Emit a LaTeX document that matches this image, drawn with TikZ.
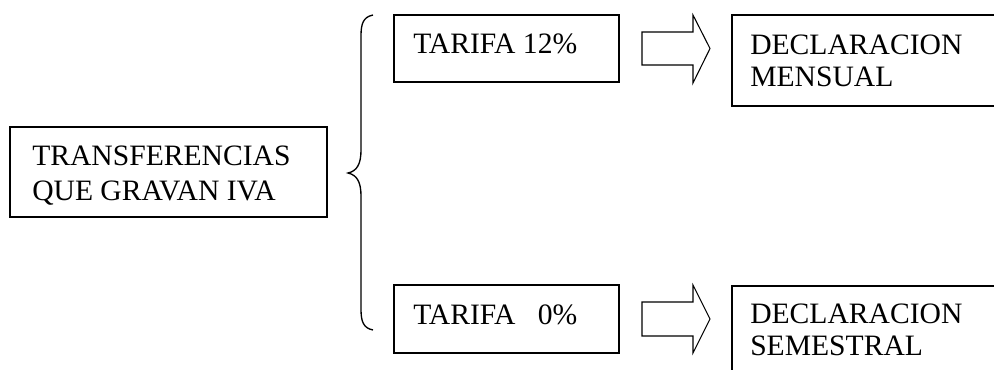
\documentclass[tikz,border=0pt]{standalone}
\usepackage{fontspec}
\setmainfont{Liberation Serif}
\begin{document}
\begin{tikzpicture}[x=0.75pt,y=-0.75pt,
  box/.style={draw,line width=1.1pt},
  txt/.style={inner sep=0pt,anchor=base west,font=\fontsize{22.2}{26}\selectfont},
  blockarrow/.style={draw,line width=0.8pt,line join=miter},
  brace/.style={draw,line width=1pt}]
\useasboundingbox (0,0) rectangle (994,369);
\clip (0,0) rectangle (994,369);

% source box
\draw[box] (10,127) rectangle (327,217);
\node[txt] (srcA) at (32,165) {TRANSFERENCIAS};
\node[txt] (srcB) at (32,200) {QUE GRAVAN IVA};

% curly brace
\draw[brace] (373,15) .. controls (363,17) and (361,24) .. (361,36)
  -- (361,150) .. controls (361,164) and (357,171) .. (348,173)
  .. controls (357,175) and (361,182) .. (361,196)
  -- (361,309) .. controls (361,321) and (363,328) .. (373,330);

% rate boxes
\draw[box] (394,15) rectangle (619,82);
\node[txt] (t12) at (413,53) {TARIFA 12\%};
\draw[box] (394,285) rectangle (619,353);
\node[txt] (t0) at (413,324) {TARIFA\ \ \ 0\%};

% block arrows
\draw[blockarrow] (642,32) -- (693,32) -- (693,15) -- (710,48.5) -- (693,83)
  -- (693,65) -- (642,65) -- cycle;
\draw[blockarrow] (642,302) -- (693,302) -- (693,285) -- (710,319) -- (693,353)
  -- (693,336) -- (642,336) -- cycle;

% declaration boxes
\draw[box] (732,15) rectangle (1010,106);
\node[txt] (dmA) at (750,54) {DECLARACION};
\node[txt] (dmB) at (750,86) {MENSUAL};
\draw[box] (732,286) rectangle (1010,390);
\node[txt] (dsA) at (750,323) {DECLARACION};
\node[txt] (dsB) at (750,355) {SEMESTRAL};
\end{tikzpicture}
\end{document}
